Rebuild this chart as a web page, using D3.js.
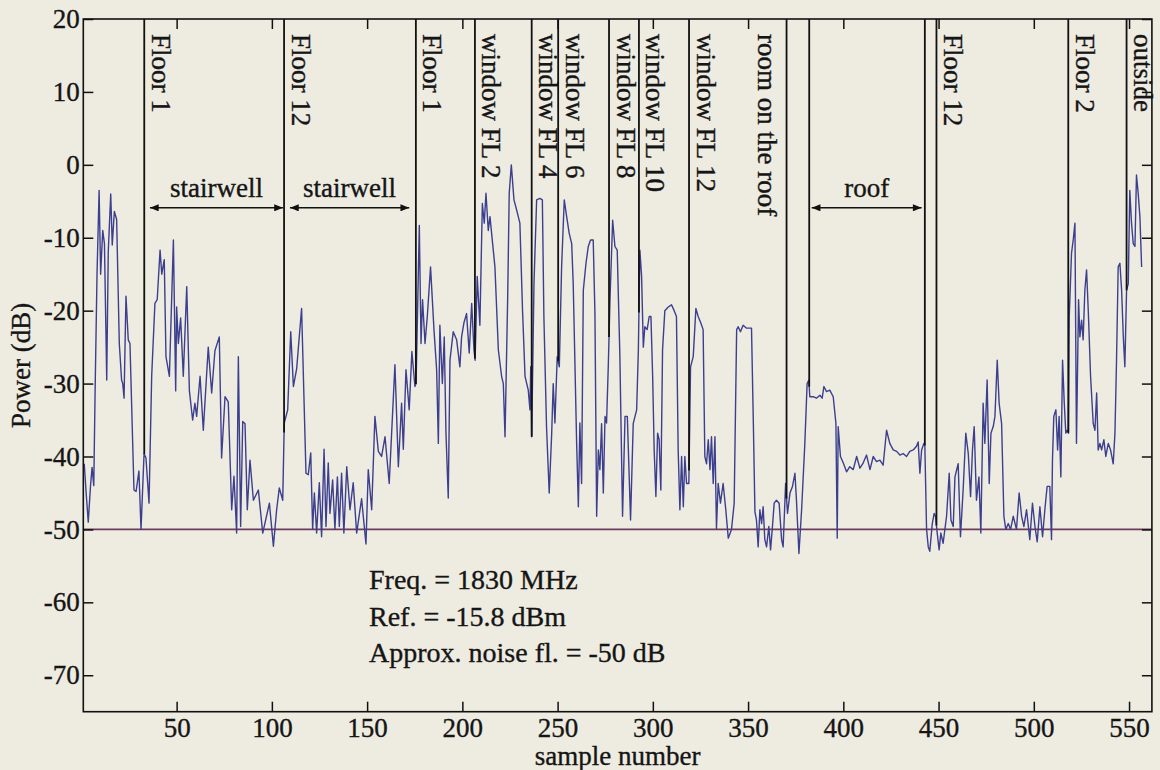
<!DOCTYPE html>
<html>
<head>
<meta charset="utf-8">
<script src="https://cdn.jsdelivr.net/npm/d3@7"></script>
<style>
  html, body { margin: 0; padding: 0; background: #eeebe1; }
  svg { display: block; }
  text { font-family: "Liberation Serif", "Times New Roman", "DejaVu Serif", serif; fill: #151515; stroke: #151515; stroke-width: 0.35px; }
</style>
</head>
<body>
<svg id="chart" width="1160" height="770"></svg>
<script>
// ---------------- data ----------------
const samples = [
1.5,2.5,3.6,4.8,5.6,6.5,7.2,8.2,9.3,10.1,11.2,12.1,13.3,14.1,15.4,16.2,17.3,18.5,19.9,21.1,21.7,22.4,23.4,24.6,25.5,27.6,28.7,30.2,31.3,32.9,33.9,35.5,36.9,38.6,39.8,41.3,42.2,43.5,44.4,46.2,48.3,49.5,50.0,50.9,52.1,53.5,55.3,56.7,58.4,59.6,60.5,62.3,64.0,66.6,68.4,70.1,72.4,73.6,75.4,77.1,78.9,80.1,81.5,82.4,83.6,84.7,85.9,87.1,88.5,90.3,92.9,95.2,98.7,100.8,102.5,103.9,105.7,106.5,108.3,109.9,111.3,113.0,115.6,117.9,119.1,120.4,121.4,122.3,123.5,124.9,126.1,127.4,128.4,129.6,130.5,131.9,133.1,134.4,135.4,136.6,137.8,139.3,141.0,142.7,144.5,
147.1,149.4,150.6,152.4,154.1,155.9,157.6,159.4,161.6,164.6,166.4,168.1,169.0,170.4,172.1,173.5,175.1,175.7,177.4,178.3,179.1,180.4,181.6,183.3,185.1,186.5,187.4,188.2,189.5,190.5,191.4,192.6,193.5,195.2,197.0,198.7,199.6,200.8,202.2,203.6,204.9,206.1,206.7,207.8,209.2,210.5,211.5,212.4,213.6,214.5,215.9,217.1,218.9,220.6,221.5,222.4,223.8,224.6,225.7,227.1,228.5,230.2,231.6,232.9,234.6,235.5,235.9,236.4,237.6,239.0,240.7,242.0,242.8,244.2,245.6,246.9,247.7,248.6,249.8,250.9,252.1,253.5,254.7,256.1,257.4,258.2,260.0,260.9,261.7,262.6,263.5,264.9,266.1,267.3,268.7,269.6,270.5,271.4,272.2,273.1,274.0,274.9,275.7,276.6,277.5,278.9,280.1,281.3,282.7,284.1,285.4,286.6,288.3,289.7,291.5,292.4,
293.2,294.1,295.0,295.8,297.0,298.1,299.0,299.9,300.7,301.6,302.5,303.3,304.2,305.1,306.3,308.1,309.8,311.2,312.4,313.3,314.2,315.1,316.0,316.8,317.7,318.9,319.8,321.2,322.6,323.8,325.2,326.4,327.3,328.2,329.1,330.0,330.8,331.7,332.6,333.4,334.3,335.5,336.9,338.3,339.6,341.3,342.7,344.0,344.8,346.0,347.4,349.2,351.8,352.7,353.6,354.4,355.3,356.2,357.1,357.9,358.8,359.7,360.9,361.8,362.8,363.7,364.9,366.3,367.6,368.4,369.7,370.7,372.0,373.3,374.6,375.4,376.7,378.1,379.8,381.0,381.9,382.4,384.2,385.9,387.7,388.9,389.8,391.2,392.9,394.7,396.1,396.8,397.3,398.5,400.0,401.7,403.4,405.2,407.0,408.7,410.4,412.2,414.0,415.7,417.4,419.2,420.9,422.7,424.4,426.2,428.0,429.7,431.4,433.2,434.9,436.7,438.4,439.3,440.2,441.1,442.3,442.8,443.7,444.6,445.4,446.7,447.7,448.4,449.3,450.3,451.2,452.4,454.2,455.6,456.5,457.7,458.6,460.3,461.5,462.9,464.3,465.6,466.8,467.8,468.7,469.9,471.2,472.2,473.4,474.3,475.5,476.6,477.5,478.7,479.6,480.8,481.8,483.1,484.3,485.3,486.6,487.8,489.2,490.9,492.3,493.6,494.8,496.2,497.9,499.3,500.6,501.8,503.2,504.6,505.8,507.0,508.4,509.3,509.8,510.5,511.6,512.5,513.3,514.2,515.1,516.0,516.8,517.5,518.2,518.6,519.8,520.7,521.6,522.4,523.5,524.2,525.1,525.9,526.8,527.7,528.6,529.8,531.2,532.1,533.0,533.8,534.7,535.6,536.8,537.8,539.1,540.3,541.7,542.6,543.4,544.3,545.2,546.1,547.0,547.8,548.7,549.6,550.4,551.3,552.2,553.1,553.9,554.8,555.7,556.6
];
const power = [
-41,-45,-49,-44,-41.5,-44,-31,-15,-3.5,-15,-9,-10.8,-29.5,-12,-4,-11,-6.4,-7.5,-24.5,-29.5,-30,-32,-18,-24,-24.5,-44.6,-44.8,-42,-50,-39.6,-40.2,-46.4,-29,-19,-18.5,-11.7,-15,-13,-26.3,-29,-10.3,-31,-19.5,-24.5,-21,-29,-16.7,-31,-35,-32.7,-34.5,-29,-36.4,-25,-31.3,-25.5,-23.6,-40.2,-31.8,-32.5,-47.3,-42.7,-50.5,-26.3,-49.6,-35.2,-35.5,-47.3,-40.5,-46,-44.6,-50.5,-46.4,-52.3,-47.3,-44.3,-46,-35.4,-33.6,-22.9,-30.4,-28,-19.7,-42.3,-42.5,-39.5,-50,-45,-50.5,-43.6,-51,-39,-49.6,-40.9,-47.8,-43.2,-50,-42.8,-49.6,-42.3,-50.5,-41.4,-47.3,-43.6,-50.5,
-45.8,-52,-41.8,-47.3,-34.5,-39.3,-40,-37.3,-43.7,-27.4,-41.4,-32.7,-39,-28.1,-33.6,-25.6,-30.4,-30,-8.3,-24.5,-18.5,-24.5,-20.8,-14,-22.6,-28.1,-38.2,-22,-30,-23.6,-36.8,-45.7,-26.8,-22.9,-24,-27.7,-23.6,-21.7,-20.4,-25.8,-19,-25.4,-26.8,-15.3,-22,-5.3,-8,-3.9,-9,-7.1,-10.8,-14,-25.4,-29,-30,-37.3,-18.1,-3.9,0,-4.8,-6.2,-8,-20,-29,-30.9,-33.6,-27.7,-37.3,-16.3,-4.8,-4.6,-4.8,-20.8,-36,-45,-36.8,-30,-35.4,-26.3,-27.7,-14,-4.8,-7,-9.4,-10.8,-16.3,-38.2,-46.9,-35.4,-43.7,-17.2,-13.5,-11.2,-10.3,-10.3,-20.4,-48.2,-39.1,-41.8,-35.5,-45,-34.5,-35.4,-27.7,-18.5,-7.6,-11.2,-11.7,-26.3,-48.2,-34.5,-34.5,-48.7,-35.5,-33.6,-25.4,
-11.7,-15.3,-25,-22.2,-22.6,-20.8,-20.8,-29,-39.1,-45.5,-36.8,-37.7,-44.6,-25.4,-20,-19.5,-19.2,-20,-20.8,-39.1,-47.3,-40,-46.9,-40,-43.7,-43.7,-27.7,-26.3,-19.7,-20.8,-21.7,-22.6,-40,-41,-37.7,-41.8,-37.3,-43.7,-37.3,-49.9,-43.7,-46.4,-43.7,-47.3,-51.2,-50,-46.4,-22.6,-22.2,-22.9,-22,-22.4,-22.4,-34.5,-47.6,-48.7,-52.4,-47.3,-49.2,-46.9,-51.4,-52.4,-49.6,-52.8,-49.6,-46.4,-46,-46.4,-51.4,-52.4,-43.7,-47.8,-45,-44.1,-42.3,-46,-53.3,-47.3,-38.2,-30,-29.5,-31.8,-31.8,-32,-31.6,-32,-30.4,-31.1,-30.9,-31.8,-35.4,-51.2,-35.9,-40,-40.9,-42.1,-41.4,-41.8,-40,-41.6,-40.9,-39.8,-41.8,-40,-40.7,-40.5,-41.2,-36.4,-38.2,-39.1,-39.3,-39.8,-39.6,-40,-39.3,-39.1,-38.6,-38,-42.3,-39.1,-38.2,-38.5,-50,-52.4,-53,-49.2,-47.8,-48.2,-50.5,-52.8,-50.5,-51.9,-48.2,-42.3,-48.7,-49.6,-42.8,-41,-51,-44.6,-36.8,-39.6,-45.5,-39.1,-35.9,-46,-42.8,-50.5,-32.7,-38.2,-29.5,-43.7,-36.8,-35.9,-34.5,-26.8,-32.7,-35.5,-48.2,-50,-49.2,-50,-48.2,-50,-45,-48.2,-49.6,-47.3,-51.4,-46.4,-49.6,-51.7,-46.9,-51,-47.3,-44.1,-44.1,-51.4,-40.5,-34.5,-33.6,-39.1,-34.5,-42.8,-26.8,-32.7,-36.8,-36.4,-36.8,-20.8,-12.1,-10.3,-8,-38.2,-18.5,-23.6,-21.3,-24,-17.2,-14.4,-20,-29,-35.5,-36.4,-31.3,-39.1,-38.2,-39.1,-37.7,-40,-38.2,-39.1,-41,-36.8,-27.2,-14,-13.5,-17.2,-23.6,-27.7,-17.2,-16.3,-3.5,-8,-10.8,-11.2,-1.4,-3.9,-7.1,-14
];
const noiseFloor = -50;

const markerSamples = [33, 106.4, 175.6, 206.6, 236.4, 250.3, 277, 292.7, 319, 370.2, 382.1, 442.8, 448.9, 518.1, 548.7];
const markerLabels = ["Floor 1", "Floor 12", "Floor 1", "window FL 2", "window FL 4", "window FL 6", "window FL 8", "window FL 10", "window FL 12", "room on the roof", "", "", "Floor 12", "Floor 2", "outside"];

const regionLabels = ["stairwell", "stairwell", "roof"];
const regionStart = [36, 109.5, 383.4];
const regionEnd = [105.8, 172.1, 441.1];
const regionLevel = -5.9;

const xTicks = [50, 100, 150, 200, 250, 300, 350, 400, 450, 500, 550];
const yTicks = [-70, -60, -50, -40, -30, -20, -10, 0, 10, 20];
const infoLines = ["Freq. = 1830 MHz", "Ref. = -15.8 dBm", "Approx. noise fl. = -50 dB"];
const xTitle = "sample number";
const yTitle = "Power (dB)";

// ---------------- layout ----------------
const L = 83.3, R = 1151.9, T = 19, B = 711.7;
const FS = 27;
const labelOffset = markerLabels.map(d => d === "room on the roof" ? -28.7 : 7.5);

const svg = d3.select("#chart");
const x = d3.scaleLinear().domain([1, 562]).range([L, R]);
const y = d3.scaleLinear().domain([-75, 20]).range([B, T]);

svg.append("rect").attr("width", 1160).attr("height", 770).attr("fill", "#eeebe1");

const defs = svg.append("defs");
defs.append("marker").attr("id", "ah")
  .attr("viewBox", "0 0 10 8").attr("refX", 10).attr("refY", 4)
  .attr("markerWidth", 10).attr("markerHeight", 7).attr("markerUnits", "userSpaceOnUse")
  .attr("orient", "auto-start-reverse")
  .append("path").attr("d", "M0,0 L10,4 L0,8 Z").attr("fill", "#111");

const clip = defs.append("clipPath").attr("id", "plotclip");
clip.append("rect").attr("x", L).attr("y", T).attr("width", R - L).attr("height", B - T);

const pts = samples.map((s, i) => [s, power[i]]);

// noise floor
svg.append("line")
  .attr("x1", x(1)).attr("x2", x(562))
  .attr("y1", y(noiseFloor)).attr("y2", y(noiseFloor))
  .attr("stroke", "#6b3c5c").attr("stroke-width", 1.6);

// trace
svg.append("path").datum(pts)
  .attr("clip-path", "url(#plotclip)")
  .attr("fill", "none").attr("stroke", "#3c3f8e").attr("stroke-width", 1.4)
  .attr("stroke-linejoin", "round")
  .attr("d", d3.line().x(d => x(d[0])).y(d => y(d[1])));

const bis = d3.bisector(d => d).left;
function valueAt(s) {
  const i = Math.max(1, Math.min(samples.length - 1, bis(samples, s)));
  const s0 = samples[i - 1], s1 = samples[i];
  const t = (s - s0) / (s1 - s0);
  return power[i - 1] + (power[i] - power[i - 1]) * Math.max(0, Math.min(1, t));
}

// marker lines
const mg = svg.append("g");
markerSamples.forEach((s, i) => {
  mg.append("line")
    .attr("x1", x(s)).attr("x2", x(s))
    .attr("y1", y(20)).attr("y2", y(valueAt(s)))
    .attr("stroke", "#111").attr("stroke-width", 1.8);
  if (markerLabels[i]) {
    mg.append("text")
      .attr("transform", `translate(${x(s) + labelOffset[i]},${T + 15}) rotate(90)`)
      .attr("font-size", FS).attr("text-anchor", "start")
      .text(markerLabels[i]);
  }
});

// region arrows
regionLabels.forEach((lab, i) => {
  svg.append("line")
    .attr("x1", x(regionStart[i])).attr("x2", x(regionEnd[i]))
    .attr("y1", y(regionLevel)).attr("y2", y(regionLevel))
    .attr("stroke", "#111").attr("stroke-width", 1.5)
    .attr("marker-start", "url(#ah)").attr("marker-end", "url(#ah)");
  svg.append("text")
    .attr("x", (x(regionStart[i]) + x(regionEnd[i])) / 2)
    .attr("y", y(regionLevel) - 11)
    .attr("font-size", FS).attr("text-anchor", "middle")
    .text(lab);
});

// axes
function styleAxis(g) {
  g.attr("font-family", null).attr("font-size", null);
  g.select(".domain").remove();
  g.selectAll(".tick line").attr("stroke", "#111").attr("stroke-width", 1.5);
  g.selectAll(".tick text").attr("font-size", FS).attr("fill", "#151515");
}
svg.append("g").attr("transform", `translate(0,${B})`)
  .call(d3.axisBottom(x).tickValues(xTicks).tickSize(-10).tickPadding(6).tickFormat(d => String(d)))
  .call(styleAxis);
svg.append("g").attr("transform", `translate(0,${T})`)
  .call(d3.axisTop(x).tickValues(xTicks).tickSize(-10).tickFormat(""))
  .call(styleAxis);
svg.append("g").attr("transform", `translate(${L},0)`)
  .call(d3.axisLeft(y).tickValues(yTicks).tickSize(-10).tickPadding(3.5).tickFormat(d => String(d)))
  .call(styleAxis);
svg.append("g").attr("transform", `translate(${R},0)`)
  .call(d3.axisRight(y).tickValues(yTicks).tickSize(-10).tickFormat(""))
  .call(styleAxis);

// frame
svg.append("rect").attr("x", L).attr("y", T).attr("width", R - L).attr("height", B - T)
  .attr("fill", "none").attr("stroke", "#111").attr("stroke-width", 1.6);

// titles
svg.append("text").attr("x", (L + R) / 2).attr("y", 765)
  .attr("font-size", FS).attr("text-anchor", "middle").text(xTitle);
svg.append("text").attr("transform", `translate(30,${(T + B) / 2}) rotate(-90)`)
  .attr("font-size", FS).attr("text-anchor", "middle").text(yTitle);

// info text
infoLines.forEach((t, i) => {
  svg.append("text").attr("x", 369).attr("y", 589 + i * 36.5)
    .attr("font-size", 28).text(t);
});
</script>
</body>
</html>
